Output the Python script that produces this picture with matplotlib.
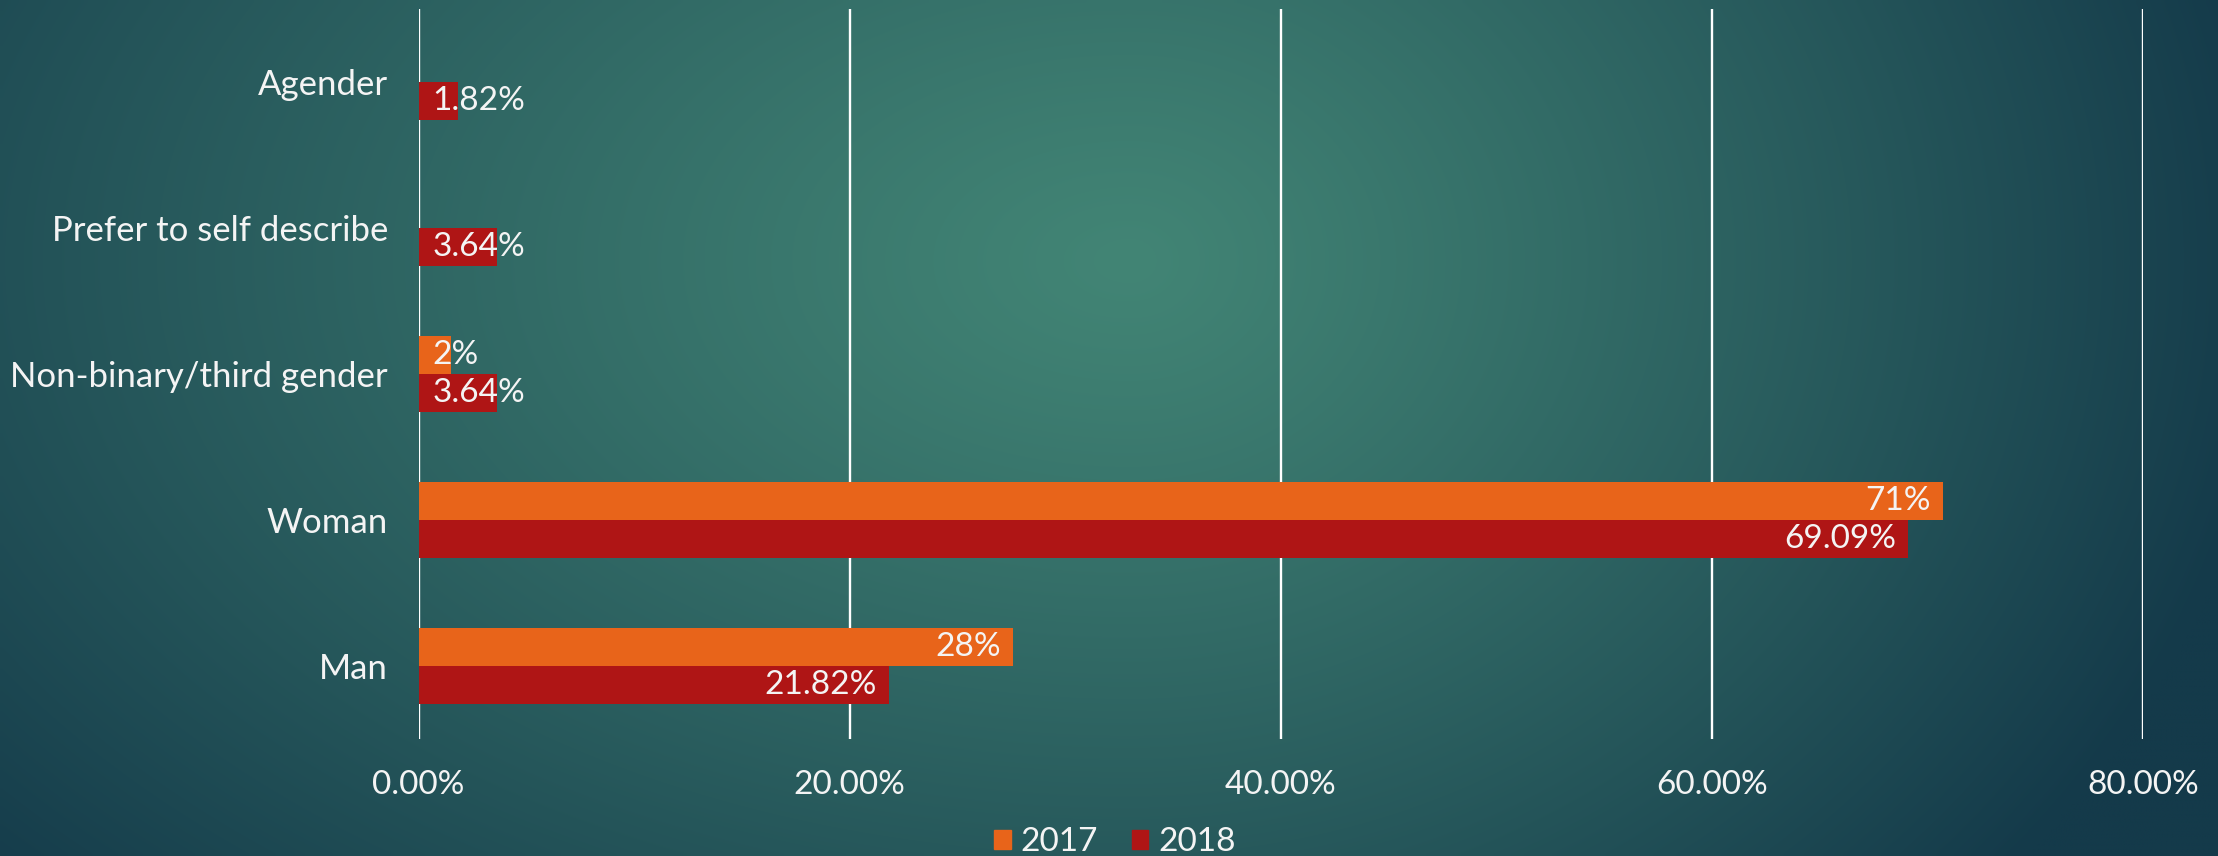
#Gender split 2017 vs 2018, horizontal grouped bars on a teal gradient
import matplotlib.pyplot as plt
import numpy as np
from matplotlib.patches import Patch

categories = ['Man', 'Woman', 'Non-binary/third gender', 'Prefer to self describe', 'Agender']
pct_2017 = [27.6, 70.7, 1.5, np.nan, np.nan]
pct_2018 = [21.82, 69.09, 3.64, 3.64, 1.82]
fmt_2017 = '{:.0f}%'
fmt_2018 = '{:.2f}%'
xticks = [0, 20, 40, 60, 80]
years = ['2017', '2018']

col_2017 = '#E8641A'
col_2018 = '#AF1515'
txt = '#F4F4F4'

plt.rcParams['font.family'] = ['Lato', 'DejaVu Sans']
plt.rcParams['font.weight'] = 'normal'

W, H = 2218, 856
fig = plt.figure(figsize=(W / 100, H / 100), dpi=100)

# background radial gradient
bg = fig.add_axes([0, 0, 1, 1], zorder=-10)
gx, gy = np.meshgrid(np.linspace(0, W, 444), np.linspace(0, H, 172))
cx, cy = 1130, 260
rx = np.where(gx < cx, 1550, 1150)
d = np.sqrt(((gx - cx) / rx) ** 2 + ((gy - cy) / 950) ** 2)
t = np.clip(d, 0, 1) ** 1.15
c0 = np.array([66, 133, 117]) / 255
c1 = np.array([20, 58, 74]) / 255
img = c0[None, None, :] * (1 - t[..., None]) + c1[None, None, :] * t[..., None]
bg.imshow(img, extent=[0, 1, 0, 1], aspect='auto', interpolation='bilinear')
bg.set_axis_off()

ax = fig.add_axes([418.5 / W, 1 - 739 / H, (2143 - 418.5) / W, (739 - 9) / H])
ax.set_facecolor('none')

y = np.arange(len(categories))
h = 0.263
ax.barh(y + h / 2, pct_2017, height=h, color=col_2017, zorder=3)
ax.barh(y - h / 2, pct_2018, height=h, color=col_2018, zorder=3)

ax.set_xlim(0, 80)
ax.set_ylim(-0.5, 4.5)
ax.set_xticks(xticks)
ax.set_xticklabels(['{:.2f}%'.format(v) for v in xticks])
ax.set_yticks(y)
ax.set_yticklabels(categories)
ax.tick_params(axis='both', length=0, colors=txt, labelsize=24)
ax.tick_params(axis='x', pad=22)
ax.tick_params(axis='y', pad=22, labelsize=25)
ax.grid(axis='x', color='white', linewidth=1.7, zorder=1)
for s in ax.spines.values():
    s.set_visible(False)

# data labels: inside end, or from the base when the bar is too short
fig.canvas.draw()
r = fig.canvas.get_renderer()
for vals, fmt, off in [(pct_2017, fmt_2017, h / 2), (pct_2018, fmt_2018, -h / 2)]:
    for i, v in enumerate(vals):
        if np.isnan(v):
            continue
        a = ax.annotate(fmt.format(v), (v, i + off), xytext=(-12, 0), textcoords='offset pixels',
                        ha='right', va='center', color=txt, fontsize=24, zorder=5)
        bb = a.get_window_extent(r)
        x0 = ax.transData.transform((0, 0))[0]
        if bb.x0 < x0 + 12:
            a.remove()
            ax.annotate(fmt.format(v), (0, i + off), xytext=(14, 0), textcoords='offset pixels',
                        ha='left', va='center', color=txt, fontsize=24, zorder=5)

handles = [Patch(color=col_2017), Patch(color=col_2018)]
leg = fig.legend(handles, years, loc='center', bbox_to_anchor=(1115 / W, 1 - 842 / H), ncol=2,
                 frameon=False, fontsize=24, handlelength=0.5, handleheight=0.5,
                 handletextpad=0.3, columnspacing=1.0, borderpad=0)
for t_ in leg.get_texts():
    t_.set_color(txt)

plt.savefig('out.png', dpi=100)
